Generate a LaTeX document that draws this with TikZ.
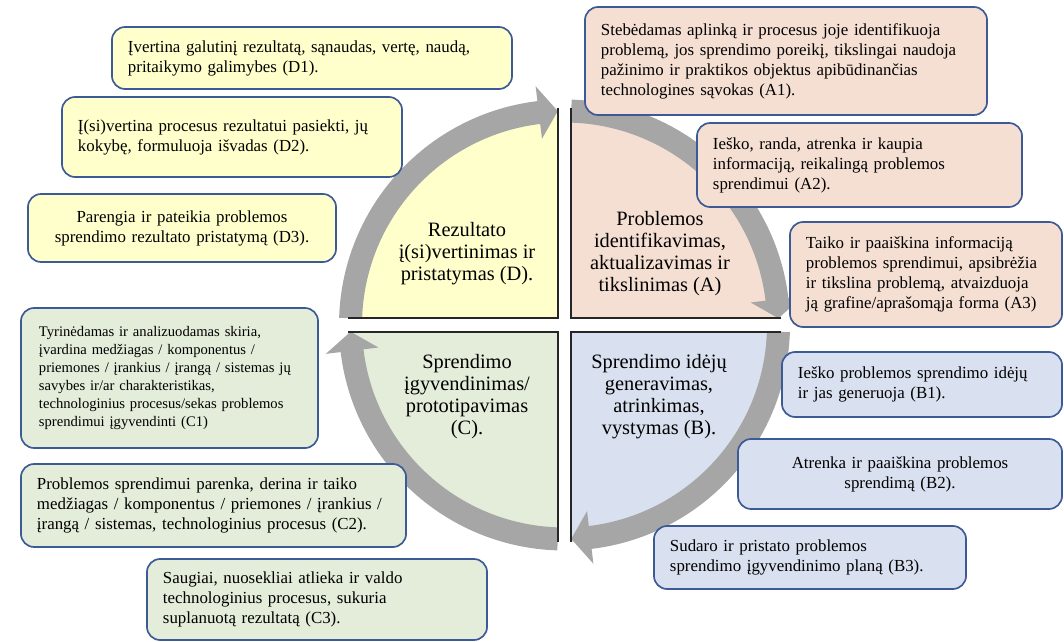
\documentclass[tikz,border=0pt]{standalone}
\usepackage{fontspec}
\setmainfont{Liberation Serif}

\definecolor{dyellow}{HTML}{FFFFCC}
\definecolor{apeach}{HTML}{F5DFD2}
\definecolor{bblue}{HTML}{D9E0EF}
\definecolor{cgreen}{HTML}{E3EDDA}
\definecolor{ringgray}{HTML}{A6A6A6}
\definecolor{boxline}{HTML}{3C5A96}

\tikzset{
  box/.style={draw=boxline, line width=1.2pt, rounded corners=0.33cm,
    inner xsep=0.4cm, inner ysep=0pt, align=left,
    font=\fontsize{12}{14.2}\selectfont},
  qtext/.style={align=center, font=\fontsize{14.5}{15.6}\selectfont},
  ring/.style={draw=ringgray, line width=0.575cm},
  edge/.style={draw=black!85, line width=0.9pt},
}

\begin{document}
\begin{tikzpicture}[x=0.025cm, y=0.025cm]
\useasboundingbox (0,0) rectangle (1064,-642);

% quarters and the cycle arrows
\begin{scope}[shift={(564.5,-325)}]
  \foreach \col/\sx/\sy in {dyellow/-1/1, apeach/1/1, bblue/1/-1, cgreen/-1/-1}{
    \begin{scope}[xscale=\sx, yscale=\sy]
      \fill[\col] (6.5,7) -- (216.5,7) arc[start angle=0, end angle=90, radius=210] -- cycle;
    \end{scope}
  }
  \foreach \a in {180,90,0,-90}{
    \draw[ring] ({\a-1.8}:214) arc[start angle=\a-1.8, end angle=\a-84, radius=214];
    \fill[ringgray] ({\a-83.1}:240.5) -- ({\a-88.2}:214) -- ({\a-83.1}:187.5) -- cycle;
  }
  \foreach \sx/\sy in {-1/1, 1/1, 1/-1, -1/-1}{
    \begin{scope}[xscale=\sx, yscale=\sy]
      \draw[edge] (216.5,7) -- (6.5,7) -- (6.5,217);
    \end{scope}
  }
\end{scope}

\node[qtext] (qD) at (467,-254) {Rezultato\\ į(si)vertinimas ir\\ pristatymas (D).};
\node[qtext] (qA) at (660,-254) {Problemos\\ identifikavimas,\\ aktualizavimas ir\\ tikslinimas (A)};
\node[qtext] (qC) at (467,-397) {Sprendimo\\ įgyvendinimas/\\ prototipavimas\\ (C).};
\node[qtext] (qB) at (659,-397) {Sprendimo idėjų\\ generavimas,\\ atrinkimas,\\ vystymas (B).};

% D
\node[box, fill=dyellow, minimum height=1.55cm, text width=9.2cm] (d1) at (312,-58)
  {Įvertina galutinį rezultatą, sąnaudas, vertę, naudą,\\ pritaikymo galimybes (D1).};
\node[box, fill=dyellow, minimum height=2cm, text width=7.7cm] (d2) at (232,-137)
  {Į(si)vertina procesus rezultatui pasiekti, jų\\ kokybę, formuluoja išvadas (D2).};
\node[box, fill=dyellow, minimum height=1.7cm, text width=6.9cm, align=center] (d3) at (182,-228)
  {Parengia ir pateikia problemos\\ sprendimo rezultato pristatymą (D3).};

% A
\node[box, fill=apeach, minimum height=2.7cm, text width=9.25cm] (a1) at (786,-61)
  {Stebėdamas aplinką ir procesus joje identifikuoja\\ problemą, jos sprendimo poreikį, tikslingai naudoja\\ pažinimo ir praktikos objektus apibūdinančias\\ technologines sąvokas (A1).};
\node[box, fill=apeach, minimum height=2.1cm, text width=7.325cm] (a2) at (859.5,-165)
  {Ieško, randa, atrenka ir kaupia\\ informaciją, reikalingą problemos\\ sprendimui (A2).};
\node[box, fill=apeach, minimum height=2.625cm, text width=6cm] (a3) at (926,-274.5)
  {Taiko ir paaiškina informaciją\\ problemos sprendimui, apsibrėžia\\ ir tikslina problemą, atvaizduoja\\ ją grafine/aprašomąja forma (A3)};

% B
\node[box, fill=bblue, minimum height=1.625cm, text width=6.2cm] (b1) at (922,-384.5)
  {Ieško problemos sprendimo idėjų\\ ir jas generuoja (B1).};
\node[box, fill=bblue, minimum height=1.75cm, text width=7.3cm, align=center] (b2) at (900,-474)
  {Atrenka ir paaiškina problemos\\ sprendimą (B2).};
\node[box, fill=bblue, minimum height=1.575cm, text width=7cm] (b3) at (810,-557.5)
  {Sudaro ir pristato problemos\\ sprendimo įgyvendinimo planą (B3).};

% C
\node[box, fill=cgreen, minimum height=3.5cm, text width=6.525cm, inner xsep=0.45cm,
  font=\fontsize{10.4}{12.8}\selectfont] (c1) at (169.5,-378)
  {Tyrinėdamas ir analizuodamas skiria,\\ įvardina medžiagas / komponentus /\\ priemones / įrankius / įrangą / sistemas jų\\ savybes ir/ar charakteristikas,\\ technologinius procesus/sekas problemos\\ sprendimui įgyvendinti (C1)};
\node[box, fill=cgreen, minimum height=2.075cm, text width=8.825cm] (c2) at (213.5,-505.5)
  {Problemos sprendimui parenka, derina ir taiko\\ medžiagas / komponentus / priemones / įrankius /\\ įrangą / sistemas, technologinius procesus (C2).};
\node[box, fill=cgreen, minimum height=2.025cm, text width=7.7cm] (c3) at (317,-599.5)
  {Saugiai, nuosekliai atlieka ir valdo\\ technologinius procesus, sukuria\\ suplanuotą rezultatą (C3).};
\end{tikzpicture}
\end{document}
